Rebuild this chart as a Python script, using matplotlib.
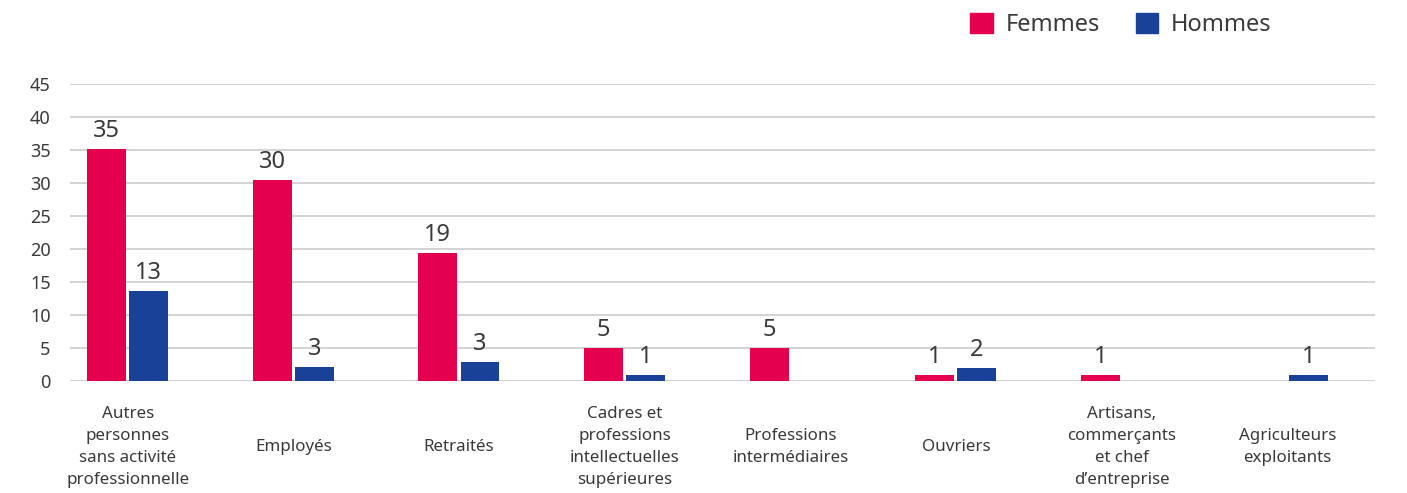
import matplotlib
matplotlib.use("Agg")
import matplotlib.pyplot as plt
import matplotlib.transforms as mtransforms
from matplotlib.patches import Patch
import numpy as np

categories = [
    "Autres\npersonnes\nsans activité\nprofessionnelle",
    "Employés",
    "Retraités",
    "Cadres et\nprofessions\nintellectuelles\nsupérieures",
    "Professions\nintermédiaires",
    "Ouvriers",
    "Artisans,\ncommerçants\net chef\nd\u2019entreprise",
    "Agriculteurs\nexploitants",
]
femmes = [35.2, 30.5, 19.4, 5.0, 5.0, 0.9, 0.9, 0.0]
hommes = [13.6, 2.1, 2.9, 0.9, 0.0, 2.0, 0.0, 0.9]
femmes_labels = ["35", "30", "19", "5", "5", "1", "1", ""]
hommes_labels = ["13", "3", "3", "1", "", "2", "", "1"]
yticks = [0, 5, 10, 15, 20, 25, 30, 35, 40, 45]

C_F = "#E4004F"
C_H = "#184197"
TXT = "#3a3a3a"
GRID = "#d3d3d3"

plt.rcParams['font.family'] = ['Noto Sans', 'DejaVu Sans']

fig = plt.figure(figsize=(14.07, 4.93), dpi=100)
ax = fig.add_axes([70/1407, 1-381/493, (1375-70)/1407, (381-84)/493])

x = np.arange(len(categories))
w = 0.235
off = 0.127
ax.bar(x - off, femmes, w, color=C_F, zorder=3)
ax.bar(x + off, hommes, w, color=C_H, zorder=3)

for xi, v, lab in zip(x, femmes, femmes_labels):
    if lab:
        ax.text(xi - off, v + 0.9, lab, ha='center', va='bottom', fontsize=17, color=TXT)
for xi, v, lab in zip(x, hommes, hommes_labels):
    if lab:
        ax.text(xi + off, v + 0.9, lab, ha='center', va='bottom', fontsize=17, color=TXT)

ax.set_xlim(-0.348, 7.53)
ax.set_ylim(0, 45)
ax.set_yticks(yticks)
ax.set_yticklabels([str(t) for t in yticks], fontsize=13, color=TXT)
ax.tick_params(axis='y', length=0, pad=14)
ax.set_xticks([])
ax.grid(axis='y', color=GRID, linewidth=1.4, zorder=0)
for s in ax.spines.values():
    s.set_visible(False)
ax.axhline(0, color=GRID, linewidth=1.4, zorder=2)

trans = mtransforms.blended_transform_factory(ax.transData, fig.transFigure)
for xi, cat in zip(x, categories):
    ax.text(xi, 1-447/493, cat, transform=trans, ha='center', va='center',
            fontsize=12.2, color=TXT, linespacing=1.5, multialignment='center')

handles = [Patch(color=C_F, label="Femmes"), Patch(color=C_H, label="Hommes")]
fig.legend(handles=handles, loc='center', bbox_to_anchor=(1121/1407, 1-25/493), ncol=2,
           frameon=False, fontsize=17, handlelength=0.95, handleheight=0.95,
           handletextpad=0.55, columnspacing=1.5, labelcolor=TXT)

fig.savefig("out.png", dpi=100)
